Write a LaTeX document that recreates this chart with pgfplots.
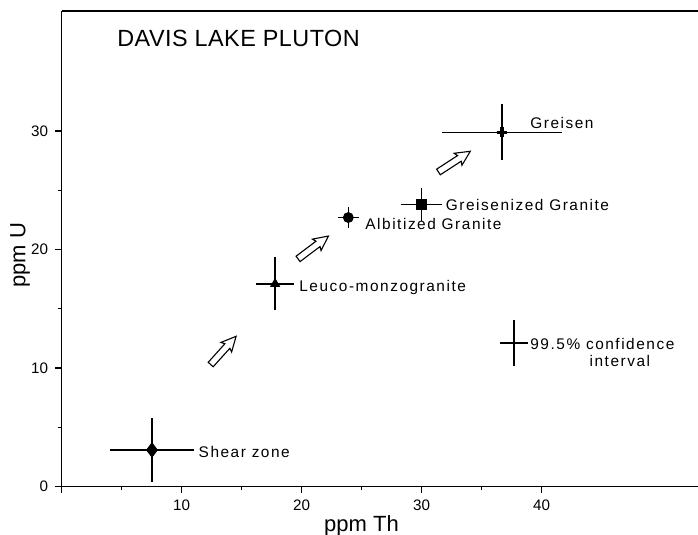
\documentclass[border=0pt]{standalone}
\usepackage{fontspec}
\setmainfont{Liberation Sans}
\newfontfamily\labfont[LetterSpace=10]{Liberation Sans}
\newfontfamily\titlefont[LetterSpace=2]{Liberation Sans}
\usepackage{pgfplots}
\pgfplotsset{compat=1.18}
\usetikzlibrary{shapes.arrows}

\tikzset{
  trend/.style={single arrow, draw=black, fill=white, line width=0.55pt,
    minimum height=19pt, inner sep=1.4pt, single arrow head extend=1.9pt,
    single arrow tip angle=52, single arrow head indent=0.8pt},
  lab/.style={anchor=base west, inner sep=0pt, font=\fontsize{7.7}{9}\labfont},
}

\begin{document}
\begin{tikzpicture}
\begin{axis}[
  width=318.25pt, height=237.75pt, scale only axis,
  xmin=0, xmax=53.04, ymin=0, ymax=40.13,
  axis x line*=bottom, axis y line*=left,
  axis line style={-, line width=0.7pt},
  xtick={0,10,20,30,40}, xticklabels={,10,20,30,40},
  minor xtick={5,15,25,35},
  ytick={0,10,20,30}, minor ytick={5,15,25},
  tick align=outside, major tick length=3.2pt, minor tick length=1.8pt,
  every tick/.style={line width=0.7pt, black},
  tick label style={font=\fontsize{7.6}{9}\selectfont},
  /pgf/number format/assume math mode=true,
  xlabel={ppm Th}, ylabel={ppm U},
  every axis x label/.style={at={(axis description cs:0.4713,-0.0947)},
    anchor=base, font=\fontsize{11}{13}\selectfont},
  every axis y label/.style={at={(axis description cs:-0.0652,0.486)},
    anchor=center, rotate=90, font=\fontsize{11}{13}\selectfont},
  clip=false,
  error bars/error bar style={line width=0.7pt, draw=black},
  error bars/error mark=none,
]
% frame line along the top
\draw[line width=0.7pt] (rel axis cs:0,1) -- (rel axis cs:1,1);

% Shear zone
\addplot[black, only marks, mark=diamond*, mark size=3.6pt,
  error bars/.cd, x dir=both, x explicit, y dir=both, y explicit]
  coordinates {(7.54,3.08) +- (3.5,2.7)};
% Leuco-monzogranite
\addplot[black, only marks, mark=triangle*, mark size=2.6pt,
  error bars/.cd, x dir=both, x explicit, y dir=both, y explicit]
  coordinates {(17.8,17.1) +- (1.6,2.24)};
% Albitized Granite
\addplot[black, only marks, mark=*, mark size=2.5pt,
  error bars/.cd, x dir=both, x explicit, y dir=both, y explicit]
  coordinates {(23.9,22.7) +- (0.9,0.9)};
% Greisenized Granite
\addplot[black, only marks, mark=square*, mark size=2.4pt,
  error bars/.cd, x dir=both, x explicit, y dir=both, y explicit]
  coordinates {(30.0,23.8) +- (1.67,1.4)};
% Greisen
\addplot[black, only marks, mark=+, mark size=2.6pt, mark options={line width=1.6pt},
  error bars/.cd, x dir=both, x explicit, y dir=both, y explicit]
  coordinates {(36.7,29.9) +- (5.0,2.36)};
% 99.5% confidence interval key: bars only, no marker
\addplot[draw=none, mark=none,
  error bars/.cd, x dir=both, x explicit, y dir=both, y explicit]
  coordinates {(37.7,12.1) +- (1.2,1.94)};

% trend arrows
\node[trend, rotate=48] at (axis cs:13.3,11.27) {};
\node[trend, rotate=37] at (axis cs:20.75,20.0) {};
\node[trend, rotate=33] at (axis cs:32.5,27.26) {};

% labels
\node[anchor=west, inner sep=0pt, font=\fontsize{11.7}{14}\titlefont]
  at (axis cs:4.62,37.85) {DAVIS LAKE PLUTON};
\node[lab] at (axis cs:11.4,2.46) {Shear zone};
\node[lab] at (axis cs:19.79,16.5) {Leuco-monzogranite};
\node[lab] at (axis cs:25.29,21.7) {Albitized Granite};
\node[lab] at (axis cs:32.0,23.27) {Greisenized Granite};
\node[lab] at (axis cs:39.04,30.23) {Greisen};
\node[lab] at (axis cs:39.04,11.58) {99.5\% confidence};
\node[lab] at (axis cs:43.98,10.17) {interval};

\coordinate (bl) at (axis cs:-5.125,-4.09);
\coordinate (tr) at (axis cs:53.04,41.06);
\end{axis}
\pgfresetboundingbox
\path[use as bounding box] (bl) rectangle (tr);
\end{tikzpicture}
\end{document}
